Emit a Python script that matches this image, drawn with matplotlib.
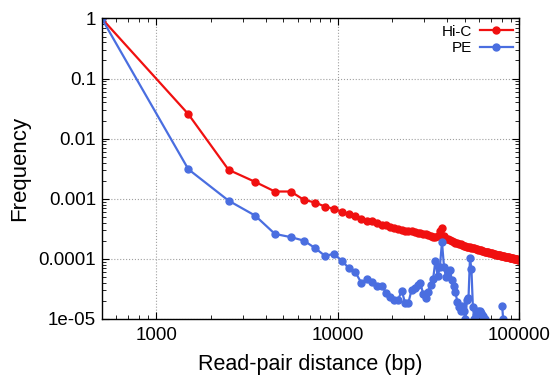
import numpy as np
import matplotlib.pyplot as plt
from matplotlib.ticker import FixedLocator, LogLocator, NullFormatter

plt.rcParams['font.family'] = ['Liberation Sans', 'DejaVu Sans']

# read-pair distance bins (bp), 1 kb bins centred on 500, 1500, ... 99500
distance = np.arange(500, 100000, 1000)

# Hi-C frequency per bin
hic = [
    1.0, 0.0256, 0.00303, 0.00191, 0.00132, 0.00132, 0.00096, 0.000865, 0.00074, 0.00068,
    0.00061, 0.00056, 0.00052, 0.00046, 0.00043, 0.00042, 0.00039, 0.00037, 0.00036, 0.00034,
    0.00032, 0.00031, 0.00030, 0.00029, 0.00029, 0.00029, 0.000285, 0.00027, 0.000265, 0.00026,
    0.000255, 0.000245, 0.00024, 0.000232, 0.000228, 0.00024, 0.00029, 0.00032, 0.00024, 0.000215,
    0.00021, 0.000205, 0.0002, 0.00019, 0.000187, 0.000183, 0.00018, 0.000175, 0.00017, 0.000166,
    0.000163, 0.00016, 0.000158, 0.000156, 0.000154, 0.000151, 0.000149, 0.000147, 0.000145, 0.000143,
    0.00014, 0.000138, 0.000136, 0.000134, 0.000132, 0.00013, 0.000129, 0.000128, 0.000126, 0.000125,
    0.000123, 0.000122, 0.00012, 0.000119, 0.000118, 0.000117, 0.000116, 0.000115, 0.000114, 0.000113,
    0.000112, 0.000111, 0.00011, 0.000109, 0.000108, 0.000107, 0.000107, 0.000106, 0.000105, 0.000104,
    0.000103, 0.000102, 0.000102, 0.000101, 0.0001, 0.0000995, 0.000099, 0.000098, 0.0000975, 0.000097,
]

# PE frequency per bin (nan = no reads in that bin)
nan = np.nan
pe = [
    1.0, 0.0031, 0.00093, 0.000525, 0.00026, 0.00023, 0.000201, 0.000151, 0.000112, 0.000121,
    0.0000937, 0.00007, 0.00006, 0.0000394, 0.000047, 0.0000419, 0.0000356, 0.0000347, 0.0000275, 0.0000236,
    0.0000208, 0.0000208, 0.0000297, 0.0000183, 0.0000187, 0.0000305, 0.0000325, 0.0000369, 0.0000404, 0.0000262,
    0.0000222, 0.0000286, 0.0000369, 0.0000459, 0.0000927, 0.000052, 0.000072, 0.00019, 0.000072, 0.00005,
    0.000061, 0.000064, 0.000045, 0.000035, 0.000028, 0.0000195, 0.0000158, 0.0000133, 0.0000165, 0.0000135,
    0.00001, 0.0000208, 0.000022, 0.000103, 0.000067, 0.000016, 0.00001, 0.0000117, 0.0000125, 0.0000135,
    0.0000135, 0.0000125, 0.0000115, 0.000011, 0.00001, nan, nan, nan, nan, nan,
    nan, nan, nan, nan, nan, nan, nan, nan, nan, nan,
    0.0000165, 0.00001, nan, nan, nan, nan, nan, nan, nan, nan,
    nan, nan, nan, nan, nan, nan, nan, nan, nan, nan,
]

xticks = [1000, 10000, 100000]
xtick_labels = ['1000', '10000', '100000']
yticks = [1e-5, 1e-4, 1e-3, 1e-2, 1e-1, 1]
ytick_labels = ['1e-05', '0.0001', '0.001', '0.01', '0.1', '1']

fig = plt.figure(figsize=(5.53, 3.77), dpi=100)
ax = fig.add_axes([0.184, 0.154, 0.755, 0.797])

ax.plot(distance, hic, color='#f01010', lw=1.6, marker='o', ms=5, label='Hi-C')
ax.plot(distance, pe, color='#4a6ee0', lw=1.6, marker='o', ms=5, label='PE')

ax.set_xscale('log')
ax.set_yscale('log')
ax.set_xlim(500, 100000)
ax.set_ylim(1e-5, 1)

ax.xaxis.set_major_locator(FixedLocator(xticks))
ax.set_xticklabels(xtick_labels)
ax.yaxis.set_major_locator(FixedLocator(yticks))
ax.set_yticklabels(ytick_labels)
ax.xaxis.set_minor_locator(LogLocator(base=10, subs=np.arange(2, 10)))
ax.yaxis.set_minor_locator(LogLocator(base=10, subs=np.arange(2, 10)))
ax.xaxis.set_minor_formatter(NullFormatter())
ax.yaxis.set_minor_formatter(NullFormatter())

ax.tick_params(which='both', direction='in', top=True, right=True, labelsize=13.5)
ax.tick_params(axis='y', pad=4)
ax.tick_params(axis='x', pad=6)
ax.tick_params(which='major', length=5, width=0.8)
ax.tick_params(which='minor', length=3, width=0.6)
ax.grid(True, which='major', color='#a0a0a0', ls=':', lw=0.8)
for s in ax.spines.values():
    s.set_linewidth(1.0)

ax.set_xlabel('Read-pair distance (bp)', fontsize=15.5, labelpad=7)
ax.set_ylabel('Frequency', fontsize=16, labelpad=6)

ax.legend(loc='upper right', frameon=False, markerfirst=False, fontsize=11,
          handlelength=2.2, handletextpad=0.5, labelspacing=0.15, borderaxespad=0.0)

fig.savefig('out.png', dpi=100)
